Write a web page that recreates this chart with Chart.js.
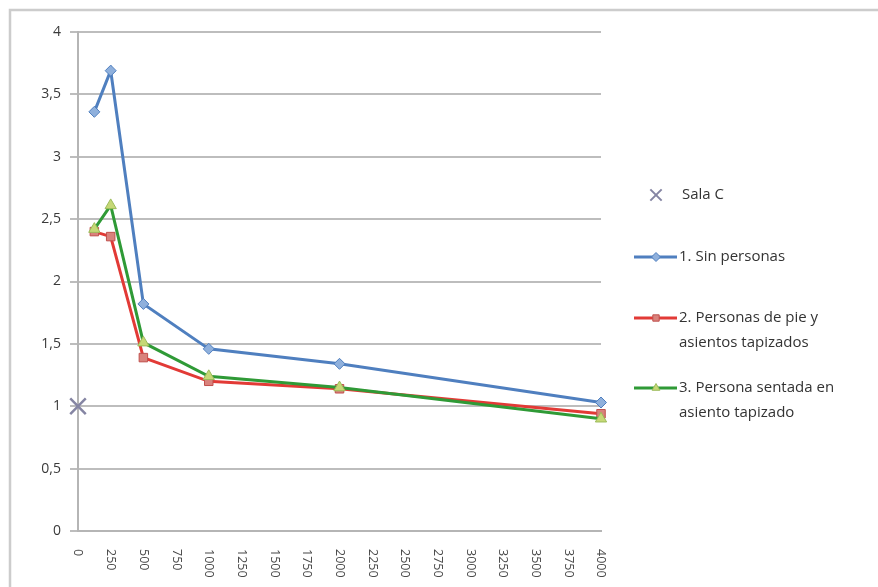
<!DOCTYPE html>
<html>
<head>
<meta charset="utf-8">
<script src="https://cdn.jsdelivr.net/npm/chart.js@4.4.0/dist/chart.umd.min.js"></script>
<style>
    html, body { margin: 0; padding: 0; background: #ffffff; }
    #wrap { width: 878px; height: 587px; position: relative; }
</style>
</head>
<body>
<div id="wrap"><canvas id="lineChart" width="878" height="587"></canvas></div>
<script>
// frecuencias (Hz)
var freqs = [125, 250, 500, 1000, 2000, 4000];

// tiempos de reverberación
var sinPersonas = [3.36, 3.69, 1.82, 1.46, 1.34, 1.03];
var personasPie = [2.40, 2.36, 1.39, 1.20, 1.14, 0.94];
var personaSentada = [2.42, 2.61, 1.51, 1.24, 1.15, 0.90];

var salaCX = [0];
var salaCY = [1];

var xTicks = [0, 250, 500, 750, 1000, 1250, 1500, 1750, 2000, 2250, 2500, 2750, 3000, 3250, 3500, 3750, 4000];
var yTicks = [0, 0.5, 1, 1.5, 2, 2.5, 3, 3.5, 4];

var legendLabels = [
    ['Sala C'],
    ['1. Sin personas'],
    ['2. Personas de pie y', 'asientos tapizados'],
    ['3. Persona sentada en', 'asiento tapizado']
];

function toPoints(xs, ys) {
    return xs.map(function (x, i) { return { x: x, y: ys[i] }; });
}

function comma(v) {
    return String(v).replace('.', ',');
}

var FONT = '"Open Sans", "Liberation Sans", sans-serif';

var chartData = {
    datasets: [
        {
            label: legendLabels[0][0],
            data: toPoints(salaCX, salaCY),
            showLine: false,
            clip: false,
            pointStyle: 'crossRot',
            pointRadius: 11,
            pointBorderWidth: 2.5,
            borderColor: '#8585a3',
            backgroundColor: '#8585a3',
            order: 0
        },
        {
            label: legendLabels[1][0],
            data: toPoints(freqs, sinPersonas),
            clip: false,
            borderColor: '#4f7fbf',
            borderWidth: 3,
            pointStyle: 'rectRot',
            pointRadius: 5.5,
            pointBackgroundColor: '#8fb0dc',
            pointBorderColor: '#4f7fbf',
            pointBorderWidth: 1,
            fill: false,
            order: 1
        },
        {
            label: legendLabels[2].join(' '),
            data: toPoints(freqs, personasPie),
            clip: false,
            borderColor: '#e23a36',
            borderWidth: 3,
            pointStyle: 'rect',
            pointRadius: 6,
            pointBackgroundColor: '#d9827c',
            pointBorderColor: '#c0504d',
            pointBorderWidth: 1,
            fill: false,
            order: 3
        },
        {
            label: legendLabels[3].join(' '),
            data: toPoints(freqs, personaSentada),
            clip: false,
            borderColor: '#2f9a36',
            borderWidth: 3,
            pointStyle: 'triangle',
            pointRadius: 6.5,
            pointBackgroundColor: '#c6d876',
            pointBorderColor: '#9bbb59',
            pointBorderWidth: 1,
            fill: false,
            order: 2
        }
    ]
};

// marco exterior + etiquetas X giradas + leyenda
var decorPlugin = {
    id: 'decor',
    beforeDraw: function (chart) {
        var ctx = chart.ctx;
        ctx.save();
        ctx.strokeStyle = '#cccccc';
        ctx.lineWidth = 2.5;
        ctx.strokeRect(10, 10, 900, 600);
        ctx.restore();
    },
    afterDraw: function (chart) {
        var ctx = chart.ctx;
        var xs = chart.scales.x;
        ctx.save();
        ctx.fillStyle = '#4a4a4a';
        ctx.font = '12.5px ' + FONT;
        ctx.textAlign = 'left';
        ctx.textBaseline = 'middle';
        xTicks.forEach(function (t) {
            var px = xs.getPixelForValue(t);
            ctx.save();
            ctx.translate(px, chart.chartArea.bottom + 18);
            ctx.rotate(Math.PI / 2);
            ctx.fillText(String(t), 0, 0);
            ctx.restore();
        });
        ctx.restore();

        // leyenda
        var rows = [
            { y: 195, ds: 0 },
            { y: 257, ds: 1 },
            { y: 318, ds: 2 },
            { y: 388, ds: 3 }
        ];
        ctx.save();
        ctx.font = '15px ' + FONT;
        ctx.textAlign = 'left';
        ctx.textBaseline = 'middle';
        rows.forEach(function (r) {
            var ds = chartData.datasets[r.ds];
            var cx = 656;
            if (r.ds > 0) {
                ctx.strokeStyle = ds.borderColor;
                ctx.lineWidth = 3;
                ctx.beginPath();
                ctx.moveTo(634, r.y);
                ctx.lineTo(677, r.y);
                ctx.stroke();
                ctx.fillStyle = ds.pointBackgroundColor;
                ctx.strokeStyle = ds.pointBorderColor;
                ctx.lineWidth = 1;
                Chart.helpers.drawPoint(ctx, { pointStyle: ds.pointStyle, radius: 4.5, borderWidth: 1, rotation: 0 }, cx, r.y);
            } else {
                ctx.strokeStyle = ds.borderColor;
                ctx.lineWidth = 2;
                Chart.helpers.drawPoint(ctx, { pointStyle: 'crossRot', radius: 8, borderWidth: 2, rotation: 0 }, cx, r.y);
            }
            ctx.fillStyle = '#333333';
            var lines = legendLabels[r.ds];
            lines.forEach(function (txt, k) {
                ctx.fillText(txt, r.ds === 0 ? 682 : 679, r.y + k * 25);
            });
        });
        ctx.restore();
    }
};

var ctx = document.getElementById('lineChart').getContext('2d');
var lineChart = new Chart(ctx, {
    type: 'line',
    data: chartData,
    plugins: [decorPlugin],
    options: {
        responsive: false,
        animation: false,
        events: [],
        layout: {
            padding: { left: 10, top: 32, right: 277, bottom: 0 }
        },
        plugins: {
            legend: { display: false },
            tooltip: { enabled: false }
        },
        scales: {
            x: {
                type: 'linear',
                min: 0,
                max: 4000,
                afterBuildTicks: function (scale) {
                    scale.ticks = xTicks.map(function (v) { return { value: v }; });
                },
                afterFit: function (scale) { scale.height = 56; },
                ticks: {
                    color: 'rgba(0,0,0,0)',
                    minRotation: 90,
                    maxRotation: 90,
                    font: { size: 12, family: FONT }
                },
                grid: { display: false, drawTicks: false },
                border: { display: true, color: '#b5b5b5', width: 2 }
            },
            y: {
                min: 0,
                max: 4,
                afterBuildTicks: function (scale) {
                    scale.ticks = yTicks.map(function (v) { return { value: v }; });
                },
                afterFit: function (scale) { scale.width = 68; },
                ticks: {
                    color: '#3a3a3a',
                    padding: 9,
                    font: { size: 14, family: FONT },
                    callback: function (v) { return comma(v); }
                },
                grid: { color: '#bdbdbd', lineWidth: 2, tickLength: 8 },
                border: { display: true, color: '#b5b5b5', width: 2 }
            }
        }
    }
});
</script>
</body>
</html>
